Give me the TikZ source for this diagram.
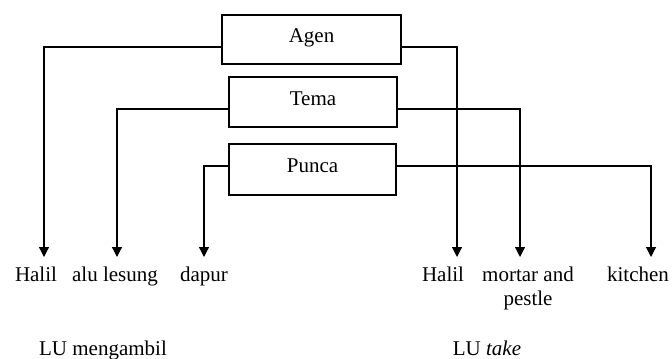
\documentclass[tikz,border=0pt]{standalone}
\usepackage{fontspec}
\setmainfont{Liberation Serif}
\usetikzlibrary{arrows.meta}
\begin{document}
\begin{tikzpicture}
    [
      x=0.5pt, y=-0.5pt,
      every node/.style={black, font=\fontsize{10.5}{12}\selectfont},
      role/.style={draw, line width=0.6pt, text height=7pt, text depth=4pt},
      link/.style={line width=0.6pt, -{Triangle[width=5pt, length=5pt]}},
      word/.style={anchor=base, align=center},
    ]

    \useasboundingbox (0,0) rectangle (672,358);

    \node [role, minimum width=89.5pt, minimum height=24.5pt] (agen) at (311.5,39.5) {Agen};
    \node [role, minimum width=84pt, minimum height=25pt] (tema) at (313,102) {Tema};
    \node [role, minimum width=83.5pt, minimum height=25.5pt] (punca) at (312.5,169.5) {Punca};

    \coordinate (tipHalilA) at (44,257);
    \coordinate (tipAlu) at (117,257);
    \coordinate (tipDapur) at (204,257);
    \coordinate (tipHalilB) at (457,257);
    \coordinate (tipMortar) at (520,257);
    \coordinate (tipKitchen) at (651,257);

    \draw [link] ([yshift=-3.75pt]agen.west) -| (tipHalilA);
    \draw [link] ([yshift=-3.5pt]tema.west) -| (tipAlu);
    \draw [link] ([yshift=1.75pt]punca.west) -| (tipDapur);

    \draw [link] ([yshift=-3.75pt]agen.east) -| (tipHalilB);
    \draw [link] ([yshift=-3.5pt]tema.east) -| (tipMortar);
    \draw [link] ([yshift=1.75pt]punca.east) -| (tipKitchen);

    \node [word] (wHalilA) at (36,281) {Halil};
    \node [word] (wAlu) at (115,281) {alu lesung};
    \node [word] (wDapur) at (204,281) {dapur};
    \node [word] (wHalilB) at (443,281) {Halil};
    \node [word] (wMortar) at (528,305) {mortar and\\pestle};
    \node [word] (wKitchen) at (638,281) {kitchen};

    \node [word] (luMengambil) at (103,355) {LU mengambil};
    \node [word] (luTake) at (487,355) {LU \textit{take}};
  \end{tikzpicture}
\end{document}
